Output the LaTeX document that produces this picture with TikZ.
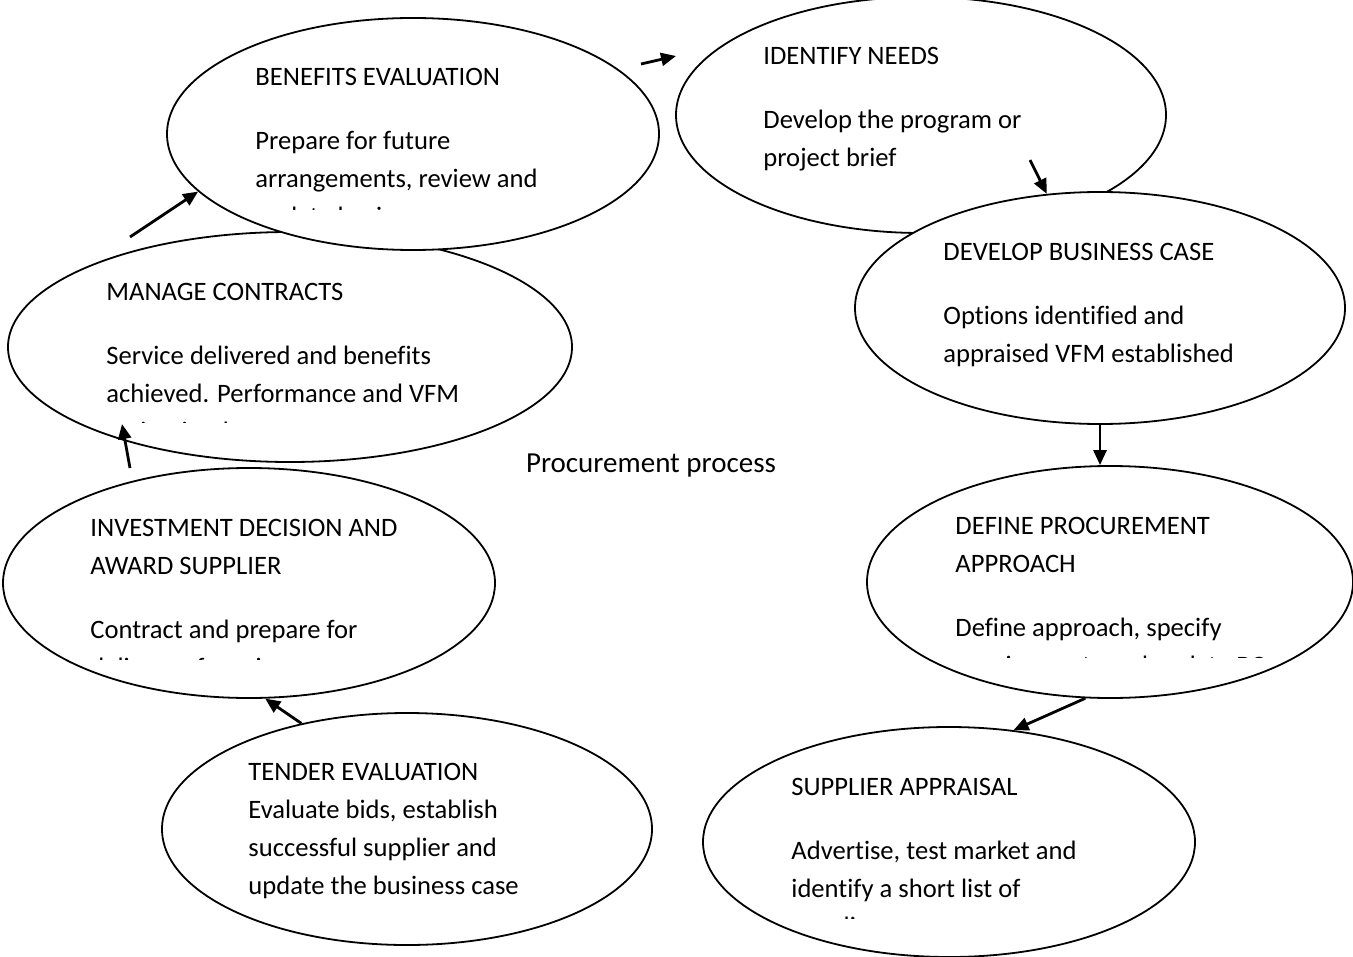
\documentclass[tikz,border=0pt]{standalone}
\usepackage{fontspec}
\setmainfont{Carlito}[Ligatures=CommonOff]
\usetikzlibrary{shapes.geometric,arrows.meta}

\begin{document}
\begin{tikzpicture}[x=0.5pt,y=-0.5pt,
  stage/.style={ellipse,draw,fill=white,line width=0.9pt,inner sep=0pt},
  words/.style={anchor=north west,align=left,inner sep=0pt,font=\fontsize{13.3}{19}\selectfont},
  flow/.style={-{Triangle[length=7.5pt,width=6.5pt]},line width=1.4pt}]
\useasboundingbox (0,0) rectangle (1353,957);

% identify needs, business case under it
\node[stage,minimum width=245pt,minimum height=118pt] (id) at (921,115) {};
\node[words] (id-t) at (763,46.5) {IDENTIFY NEEDS\\[13pt]Develop the program or\\project brief};
\node[stage,minimum width=245pt,minimum height=116pt] (dbc) at (1100,308) {};
\node[words] (dbc-t) at (943,242.5) {DEVELOP BUSINESS CASE\\[13pt]Options identified and\\appraised VFM established};

% procurement approach (last line cut by its box)
\node[stage,minimum width=243pt,minimum height=116pt] (dpa) at (1110,582) {};
\begin{scope}
  \clip (900,500) rectangle (1353,657);
  \node[words] (dpa-t) at (955,516.5) {DEFINE PROCUREMENT\\APPROACH\\[13pt]Define approach, specify\\requirements and update BC};
\end{scope}

% left column
\node[stage,minimum width=282pt,minimum height=115pt] (mc) at (290,347) {};
\begin{scope}
  \clip (50,260) rectangle (600,422);
  \node[words] (mc-t) at (106,282.5) {MANAGE CONTRACTS\\[13pt]Service delivered and benefits\\achieved. Performance and VFM\\maintained};
\end{scope}
\node[stage,minimum width=246pt,minimum height=116pt] (be) at (413,134) {};
\begin{scope}
  \clip (200,40) rectangle (650,210);
  \node[words] (be-t) at (255,67.5) {BENEFITS EVALUATION\\[13pt]Prepare for future\\arrangements, review and\\update business case};
\end{scope}
\node[stage,minimum width=246pt,minimum height=115pt] (idas) at (249,583) {};
\begin{scope}
  \clip (40,500) rectangle (480,659);
  \node[words] (idas-t) at (90,518.5) {INVESTMENT DECISION AND\\AWARD SUPPLIER\\[13pt]Contract and prepare for\\delivery of service};
\end{scope}

% bottom row
\node[stage,minimum width=245pt,minimum height=116pt] (te) at (407,829) {};
\node[words] (te-t) at (248,762.5) {TENDER EVALUATION\\Evaluate bids, establish\\successful supplier and\\update the business case};
\node[stage,minimum width=246pt,minimum height=115pt] (sa) at (949,842) {};
\begin{scope}
  \clip (740,760) rectangle (1180,918);
  \node[words] (sa-t) at (791,777.5) {SUPPLIER APPRAISAL\\[13pt]Advertise, test market and\\identify a short list of\\suppliers};
\end{scope}

\node[font=\fontsize{14.5}{19}\selectfont] (title) at (651,466) {Procurement process};

% arrows round the cycle
\coordinate (mc-out) at (130,237);
\coordinate (be-out) at (641,64);
\coordinate (id-in) at (676,56);
\coordinate (id-out) at (1030,160);
\coordinate (idas-out) at (130,468);
\coordinate (mc-in) at (122,424);
\draw[flow] (mc-out) -- (be.195);
\draw[flow] (be-out) -- (id-in);
\draw[flow] (id-out) -- (dbc.115);
\draw[flow] (dbc.south) -- (dbc.south |- dpa.north);
\draw[flow] (dpa.258) -- (sa.60);
\draw[flow] (te.135) -- (idas.278);
\draw[flow] (idas-out) -- (mc-in);
\end{tikzpicture}
\end{document}
